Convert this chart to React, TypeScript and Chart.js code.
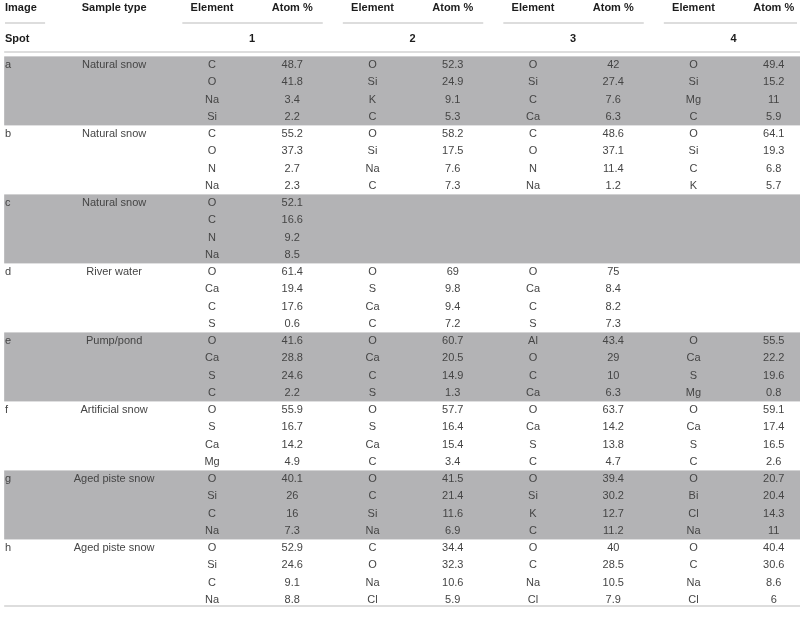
import React, { useEffect, useRef } from 'react';
import { Chart, registerables } from 'chart.js';

Chart.register(...registerables);

// ---------- data ----------
const headerLabels = ['Image', 'Sample type', 'Element', 'Atom %'];
const spotLabel = 'Spot';
const spots = ['1', '2', '3', '4'];
const images = ['a', 'b', 'c', 'd', 'e', 'f', 'g', 'h'];
const sampleTypes = [
  'Natural snow', 'Natural snow', 'Natural snow', 'River water',
  'Pump/pond', 'Artificial snow', 'Aged piste snow', 'Aged piste snow',
];

const spot1Elements = [
  'C', 'O', 'Na', 'Si', 'C', 'O', 'N', 'Na', 'O', 'C', 'N', 'Na', 'O', 'Ca', 'C', 'S',
  'O', 'Ca', 'S', 'C', 'O', 'S', 'Ca', 'Mg', 'O', 'Si', 'C', 'Na', 'O', 'Si', 'C', 'Na',
];
const spot1Atom = [
  48.7, 41.8, 3.4, 2.2, 55.2, 37.3, 2.7, 2.3, 52.1, 16.6, 9.2, 8.5, 61.4, 19.4, 17.6, 0.6,
  41.6, 28.8, 24.6, 2.2, 55.9, 16.7, 14.2, 4.9, 40.1, 26, 16, 7.3, 52.9, 24.6, 9.1, 8.8,
];
const spot2Elements = [
  'O', 'Si', 'K', 'C', 'O', 'Si', 'Na', 'C', null, null, null, null, 'O', 'S', 'Ca', 'C',
  'O', 'Ca', 'C', 'S', 'O', 'S', 'Ca', 'C', 'O', 'C', 'Si', 'Na', 'C', 'O', 'Na', 'Cl',
];
const spot2Atom = [
  52.3, 24.9, 9.1, 5.3, 58.2, 17.5, 7.6, 7.3, null, null, null, null, 69, 9.8, 9.4, 7.2,
  60.7, 20.5, 14.9, 1.3, 57.7, 16.4, 15.4, 3.4, 41.5, 21.4, 11.6, 6.9, 34.4, 32.3, 10.6, 5.9,
];
const spot3Elements = [
  'O', 'Si', 'C', 'Ca', 'C', 'O', 'N', 'Na', null, null, null, null, 'O', 'Ca', 'C', 'S',
  'Al', 'O', 'C', 'Ca', 'O', 'Ca', 'S', 'C', 'O', 'Si', 'K', 'C', 'O', 'C', 'Na', 'Cl',
];
const spot3Atom = [
  42, 27.4, 7.6, 6.3, 48.6, 37.1, 11.4, 1.2, null, null, null, null, 75, 8.4, 8.2, 7.3,
  43.4, 29, 10, 6.3, 63.7, 14.2, 13.8, 4.7, 39.4, 30.2, 12.7, 11.2, 40, 28.5, 10.5, 7.9,
];
const spot4Elements = [
  'O', 'Si', 'Mg', 'C', 'O', 'Si', 'C', 'K', null, null, null, null, null, null, null, null,
  'O', 'Ca', 'S', 'Mg', 'O', 'Ca', 'S', 'C', 'O', 'Bi', 'Cl', 'Na', 'O', 'C', 'Na', 'Cl',
];
const spot4Atom = [
  49.4, 15.2, 11, 5.9, 64.1, 19.3, 6.8, 5.7, null, null, null, null, null, null, null, null,
  55.5, 22.2, 19.6, 0.8, 59.1, 17.4, 16.5, 2.6, 20.7, 20.4, 14.3, 11, 40.4, 30.6, 8.6, 6,
];

const elementsBySpot = [spot1Elements, spot2Elements, spot3Elements, spot4Elements];
const atomBySpot = [spot1Atom, spot2Atom, spot3Atom, spot4Atom];

// ---------- layout (scale units) ----------
const ROWS_PER_GROUP = 4;
const X_MIN = -2.642;
const X_MAX = 7.327;
const Y_MIN = -3.768;
const Y_MAX = 32.17;
const IMAGE_X = -2.58;
const SAMPLE_X = -1.22;
const HEADER_Y = -3.32;
const SPOT_Y = -1.52;
const HEADER_LINE_Y = -2.435;
const SPOT_LINE_Y = -0.754;
const BOTTOM_LINE_Y = 31.36;
const TABLE_LEFT = -2.59;

const FONT = '"Liberation Sans", Arial, Helvetica, sans-serif';
const BAND = '#b3b3b5';
const RULE = '#d2d2d2';
const TEXT = '#454545';
const HEAD = '#1c1c1c';

type Cell = { x: number; y: number };

function buildDatasets() {
  const ds: any[] = [];
  ds.push({
    label: 'image',
    data: images.map((_, g) => ({ x: IMAGE_X, y: g * ROWS_PER_GROUP })),
    texts: images,
    align: 'left',
    pointRadius: 0,
  });
  ds.push({
    label: 'sample',
    data: sampleTypes.map((_, g) => ({ x: SAMPLE_X, y: g * ROWS_PER_GROUP })),
    texts: sampleTypes,
    align: 'center',
    pointRadius: 0,
  });
  elementsBySpot.forEach((els, k) => {
    const pts: Cell[] = [];
    const txt: string[] = [];
    els.forEach((e, i) => {
      if (e) {
        pts.push({ x: 2 * k, y: i });
        txt.push(e);
      }
    });
    ds.push({ label: 'el' + k, data: pts, texts: txt, align: 'center', pointRadius: 0 });
  });
  atomBySpot.forEach((vals, k) => {
    const pts: Cell[] = [];
    const txt: string[] = [];
    vals.forEach((v, i) => {
      if (v !== null && v !== undefined) {
        pts.push({ x: 2 * k + 1, y: v === null ? 0 : i });
        txt.push(String(v));
      }
    });
    ds.push({ label: 'at' + k, data: pts, texts: txt, align: 'center', pointRadius: 0 });
  });
  return ds;
}

const tablePlugin = {
  id: 'tableDraw',
  beforeDatasetsDraw(chart: any) {
    const { ctx, scales } = chart;
    const x = scales.x;
    const y = scales.y;
    ctx.save();
    const left = x.getPixelForValue(TABLE_LEFT);
    const right = chart.width;
    // shaded bands
    ctx.fillStyle = BAND;
    images.forEach((_, g) => {
      if (g % 2 === 0) {
        const top = y.getPixelForValue(g * ROWS_PER_GROUP - 0.5);
        const bot = y.getPixelForValue(g * ROWS_PER_GROUP + ROWS_PER_GROUP - 0.5);
        ctx.fillRect(left, top, right - left, bot - top);
      }
    });
    // rules
    ctx.strokeStyle = RULE;
    ctx.lineWidth = 1.5;
    const hl = (x0: number, x1: number, yy: number) => {
      ctx.beginPath();
      ctx.moveTo(x0, yy);
      ctx.lineTo(x1, yy);
      ctx.stroke();
    };
    const hy = y.getPixelForValue(HEADER_LINE_Y);
    hl(x.getPixelForValue(IMAGE_X), x.getPixelForValue(-2.08), hy);
    spots.forEach((_, k) => {
      hl(x.getPixelForValue(2 * k - 0.37), Math.min(right - 3, x.getPixelForValue(2 * k + 1.38)), hy);
    });
    hl(left, right, y.getPixelForValue(SPOT_LINE_Y));
    hl(left, right, y.getPixelForValue(BOTTOM_LINE_Y));

    // header text
    ctx.fillStyle = HEAD;
    ctx.font = 'bold 11px ' + FONT;
    ctx.textBaseline = 'middle';
    const hY = y.getPixelForValue(HEADER_Y);
    ctx.textAlign = 'left';
    ctx.fillText(headerLabels[0], x.getPixelForValue(IMAGE_X), hY);
    ctx.textAlign = 'center';
    ctx.fillText(headerLabels[1], x.getPixelForValue(SAMPLE_X), hY);
    spots.forEach((s, k) => {
      ctx.fillText(headerLabels[2], x.getPixelForValue(2 * k), hY);
      ctx.fillText(headerLabels[3], x.getPixelForValue(2 * k + 1), hY);
    });
    const sY = y.getPixelForValue(SPOT_Y);
    ctx.textAlign = 'left';
    ctx.fillText(spotLabel, x.getPixelForValue(IMAGE_X), sY);
    ctx.textAlign = 'center';
    spots.forEach((s, k) => {
      ctx.fillText(s, x.getPixelForValue(2 * k + 0.5), sY);
    });
    ctx.restore();
  },
  afterDatasetsDraw(chart: any) {
    const { ctx } = chart;
    ctx.save();
    ctx.fillStyle = TEXT;
    ctx.font = '11px ' + FONT;
    ctx.textBaseline = 'middle';
    chart.data.datasets.forEach((ds: any, di: number) => {
      const meta = chart.getDatasetMeta(di);
      ctx.textAlign = ds.align;
      meta.data.forEach((pt: any, i: number) => {
        ctx.fillText(ds.texts[i], pt.x, pt.y);
      });
    });
    ctx.restore();
  },
};

export default function App() {
  const ref = useRef<HTMLCanvasElement | null>(null);
  useEffect(() => {
    if (!ref.current) return;
    const chart = new Chart(ref.current, {
      type: 'scatter',
      data: { datasets: buildDatasets() },
      options: {
        animation: false,
        responsive: false,
        devicePixelRatio: 1,
        layout: { padding: 0 },
        events: [],
        plugins: { legend: { display: false }, tooltip: { enabled: false } },
        scales: {
          x: { type: 'linear', min: X_MIN, max: X_MAX, display: false },
          y: { type: 'linear', min: Y_MIN, max: Y_MAX, reverse: true, display: false },
        },
      },
      plugins: [tablePlugin],
    });
    return () => chart.destroy();
  }, []);
  return (
    <div style={{ position: 'absolute', left: 0, top: 0, width: 800, height: 620, background: '#fff' }}>
      <canvas ref={ref} width={800} height={620} />
    </div>
  );
}
